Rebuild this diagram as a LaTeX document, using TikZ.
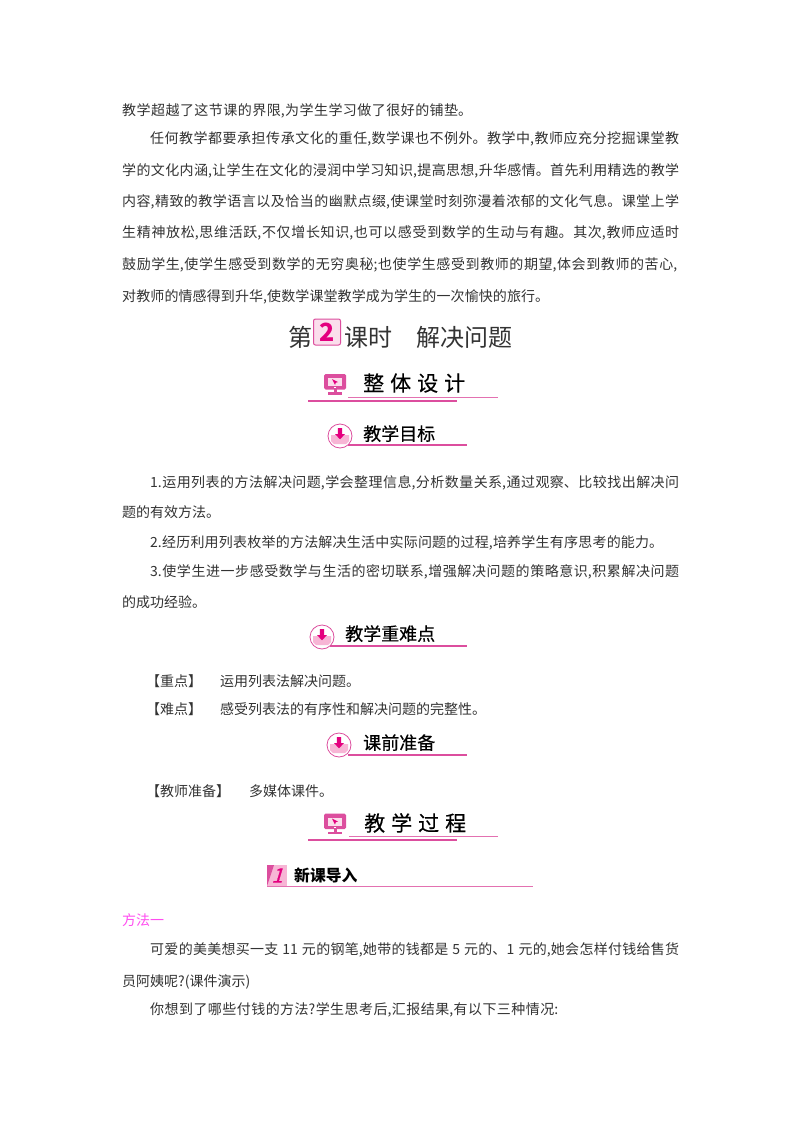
\documentclass[tikz,border=0pt]{standalone}
\usepackage{xcolor}
\usepackage{fontspec}
\setmainfont{Noto Sans CJK SC}
\newfontfamily\heiti{Noto Sans CJK SC}
\newfontfamily\headfont[FakeBold=0.35]{Noto Sans CJK SC}
\newfontfamily\slantnum[FakeSlant=0.3,FakeBold=1]{Noto Sans CJK SC}
\XeTeXlinebreaklocale "zh"
\XeTeXlinebreakskip=0pt plus 3pt
\definecolor{rosered}{HTML}{E4007F}
\definecolor{rosemid}{HTML}{DC4E9E}
\definecolor{roselight}{HTML}{F7B5D5}
\definecolor{methodpink}{HTML}{FF4DF0}
\definecolor{inkgray}{HTML}{333333}
\newcommand{\fitline}[2]{\parbox[b]{#1pt}{\parfillskip=0pt\relax #2}}
\tikzset{
  bodyline/.style={anchor=base west, inner sep=0pt, text=inkgray, font=\fontsize{14}{17}\selectfont},
  titleline/.style={anchor=base west, inner sep=0pt, text=inkgray, font=\fontsize{24}{28}\selectfont},
  bigheading/.style={anchor=base west, inner sep=0pt, text=black, font=\headfont\fontsize{21}{24}\selectfont},
  subheading/.style={anchor=base west, inner sep=0pt, text=black, font=\headfont\fontsize{18}{22}\selectfont},
  rulethin/.style={draw=rosemid!80, line width=0.9pt},
  rulethick/.style={draw=rosemid, line width=1.3pt},
  pics/monitor/.style={code={
    \fill[rosemid, rounded corners=1.5pt] (-11,-10) rectangle (11,5.5);
    \fill[rosemid] (-1.5,5) rectangle (1.5,8);
    \fill[rosemid] (-7,8) rectangle (7,10.5);
    \fill[roselight!45] (-7,-6) rectangle (7,2);
    \fill[white] (-0.8,3) rectangle (0.8,4.3);
    \fill[rosered] (-3,-5) -- (3,-2) -- (0.8,-1.2) -- (0,1) -- cycle;
  }},
  pics/arrowdisc/.style={code={
    \draw[rosemid, fill=white, line width=0.8pt] (0,0) circle (12);
    \fill[roselight] (-9,-1) -- (-4,-1) -- (0,4) -- (4,-1) -- (9,-1) -- (9,5) -- (6,8) -- (-6,8) -- (-9,5) -- cycle;
    \fill[rosered] (-2.2,-8) -- (2.2,-8) -- (2.2,-2) -- (5,-2) -- (0,3.5) -- (-5,-2) -- (-2.2,-2) -- cycle;
  }},
}
\begin{document}
\begin{tikzpicture}[x=1pt,y=-1pt]
\useasboundingbox[fill=white] (0,0) rectangle (800,1132);
% opening text
\node[bodyline] (open1) at (122,115) {\fitline{350}{教学超越了这节课的界限,为学生学习做了很好的铺垫。}};
\node[bodyline] (open2) at (150,143.5) {\fitline{529}{任何教学都要承担传承文化的重任,数学课也不例外。教学中,教师应充分挖掘课堂教}};
\node[bodyline] (open3) at (122,175.5) {\fitline{557}{学的文化内涵,让学生在文化的浸润中学习知识,提高思想,升华感情。首先利用精选的教学}};
\node[bodyline] (open4) at (122,206.5) {\fitline{557}{内容,精致的教学语言以及恰当的幽默点缀,使课堂时刻弥漫着浓郁的文化气息。课堂上学}};
\node[bodyline] (open5) at (122,237.5) {\fitline{557}{生精神放松,思维活跃,不仅增长知识,也可以感受到数学的生动与有趣。其次,教师应适时}};
\node[bodyline] (open6) at (122,269.5) {\fitline{555}{鼓励学生,使学生感受到数学的无穷奥秘;也使学生感受到教师的期望,体会到教师的苦心,}};
\node[bodyline] (open7) at (122,301.5) {\fitline{427}{对教师的情感得到升华,使数学课堂教学成为学生的一次愉快的旅行。}};
% lesson title
\node[titleline] (titleA) at (288,346) {第};
\node[draw=rosemid, fill=roselight!45, rounded corners=2pt, line width=1pt, minimum width=27pt, minimum height=26pt, inner sep=0pt, font=\heiti\bfseries\fontsize{25}{25}\selectfont, text=rosered] (titlenum) at (327,332) {2};
\node[titleline] (titleB) at (344,346) {课时};
\node[titleline] (titleC) at (416,346) {解决问题};
% overall design
\pic at (335,384) {monitor};
\node[bigheading] (design) at (363,391) {整\hspace{6pt}体\hspace{6pt}设\hspace{6pt}计};
\draw[rulethin] (348,397) -- (498,397);
\draw[rulethick] (308,401) -- (457,401);
% goals
\pic at (340,436) {arrowdisc};
\node[subheading] (goals) at (363,440.5) {教学目标};
\draw[rulethick] (348,445) -- (467,445);
\node[bodyline] (goal1a) at (150,487.5) {\fitline{529}{1.运用列表的方法解决问题,学会整理信息,分析数量关系,通过观察、比较找出解决问}};
\node[bodyline] (goal1b) at (122,517.5) {题的有效方法。};
\node[bodyline] (goal2) at (150,547.5) {\fitline{513}{2.经历利用列表枚举的方法解决生活中实际问题的过程,培养学生有序思考的能力。}};
\node[bodyline] (goal3a) at (150,576.5) {\fitline{529}{3.使学生进一步感受数学与生活的密切联系,增强解决问题的策略意识,积累解决问题}};
\node[bodyline] (goal3b) at (122,607.5) {的成功经验。};
% key points
\pic at (322,637) {arrowdisc};
\node[subheading] (keys) at (345,640.5) {教学重难点};
\draw[rulethick] (330,646) -- (467,646);
\node[bodyline] (key1a) at (146,686.5) {【重点】};
\node[bodyline] (key1b) at (220,686.5) {运用列表法解决问题。};
\node[bodyline] (key2a) at (146,714.5) {【难点】};
\node[bodyline] (key2b) at (220,714.5) {感受列表法的有序性和解决问题的完整性。};
% preparation
\pic at (339,745) {arrowdisc};
\node[subheading] (prep) at (363,749.5) {课前准备};
\draw[rulethick] (348,755) -- (467,755);
\node[bodyline] (prep1a) at (146,796.5) {【教师准备】};
\node[bodyline] (prep1b) at (249,796.5) {多媒体课件。};
% teaching process
\pic at (335,823.5) {monitor};
\node[bigheading] (process) at (364,831) {教\hspace{6pt}学\hspace{6pt}过\hspace{6pt}程};
\draw[rulethin] (349,836) -- (498,836);
\draw[rulethick] (308,840) -- (457,840);
% new lesson
\fill[roselight] (267,865) rectangle (287,886);
\fill[rosemid] (267,865) -- (274,865) -- (267,886) -- cycle;
\node[inner sep=0pt, text=rosered, font=\slantnum\fontsize{20}{20}\selectfont] (sectionnum) at (277,875.5) {1};
\node[anchor=base west, inner sep=0pt, text=black, font=\heiti\bfseries\fontsize{15.8}{18}\selectfont] (intro) at (294,881.5) {新课导入};
\draw[rulethin] (267,886) -- (533,886);
\node[bodyline, text=methodpink] (method) at (122,925.5) {方法一};
\node[bodyline] (case1a) at (150,954.5) {\fitline{529}{可爱的美美想买一支\hspace{4pt}11\hspace{4pt}元的钢笔,她带的钱都是\hspace{4pt}5\hspace{4pt}元的、1\hspace{4pt}元的,她会怎样付钱给售货}};
\node[bodyline] (case1b) at (122,986.5) {员阿姨呢?(课件演示)};
\node[bodyline] (case2) at (150,1014.5) {\fitline{408}{你想到了哪些付钱的方法?学生思考后,汇报结果,有以下三种情况:}};
\end{tikzpicture}
\end{document}
